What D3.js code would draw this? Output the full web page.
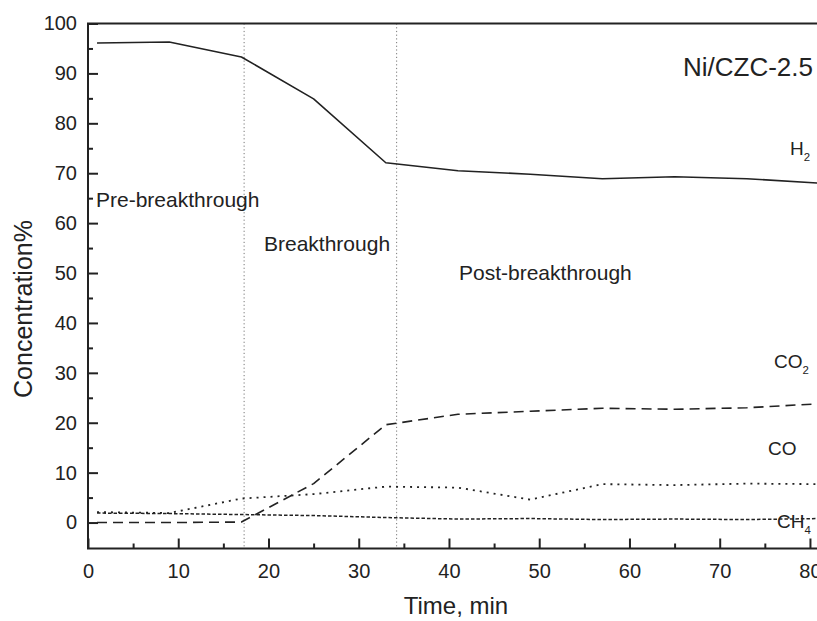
<!DOCTYPE html>
<html><head><meta charset="utf-8">
<script src="https://cdn.jsdelivr.net/npm/d3@7"></script>
<style>
body{margin:0;background:#fff;}
svg{display:block;}
text{font-family:"Liberation Sans",Arial,sans-serif;fill:#222;}
</style></head>
<body>
<svg id="c" width="817" height="621"></svg>
<script>
const times = [1, 9, 17, 25, 33, 41, 49, 57, 65, 73, 81];
const h2  = [96.1, 96.3, 93.3, 84.9, 72.1, 70.5, 69.8, 68.9, 69.3, 68.9, 68.0];
const co2 = [0.0, 0.0, 0.1, 7.8, 19.6, 21.7, 22.3, 22.9, 22.7, 23.0, 23.8];
const co  = [2.1, 1.9, 4.8, 5.7, 7.2, 7.0, 4.6, 7.7, 7.5, 7.8, 7.7];
const ch4 = [1.9, 1.8, 1.6, 1.4, 1.0, 0.7, 0.8, 0.6, 0.7, 0.6, 0.8];
const xTicks = [0, 10, 20, 30, 40, 50, 60, 70, 80];
const yTicks = [0, 10, 20, 30, 40, 50, 60, 70, 80, 90, 100];
const dividers = [17.3, 34.2];

const svg = d3.select("#c");
const L = 88, T = 23.5, R = 828, B = 548.5;
const x = d3.scaleLinear().domain([0, 82]).range([L, R]);
const y = d3.scaleLinear().domain([-5.2, 100]).range([B, T]);

svg.append("clipPath").attr("id","clip").append("rect")
  .attr("x",L).attr("y",T).attr("width",R-L).attr("height",B-T);

svg.selectAll(".div").data(dividers).enter().append("line")
  .attr("x1",d=>x(d)).attr("x2",d=>x(d)).attr("y1",T).attr("y2",B)
  .attr("stroke","#777").attr("stroke-width",1).attr("stroke-dasharray","1.2,2.5");

const series = [
  {v:h2, dash:null, w:1.6},
  {v:co2, dash:"10,6", w:1.6},
  {v:co, dash:"2,5", w:1.8},
  {v:ch4, dash:"3.5,2", w:1.5}
];
const line = d3.line().x((d,i)=>x(times[i])).y(d=>y(d));
const g = svg.append("g").attr("clip-path","url(#clip)");
series.forEach(s=>{
  g.append("path").datum(s.v).attr("d",line).attr("fill","none")
    .attr("stroke","#222").attr("stroke-width",s.w)
    .attr("stroke-dasharray",s.dash).attr("stroke-linejoin","round");
});

const xAxis = d3.axisBottom(x).tickValues(xTicks).tickSize(-10).tickFormat(d3.format("d"));
const xMinor = d3.axisBottom(x).tickValues(d3.range(5, 85, 10)).tickSize(-5).tickFormat("");
const yAxis = d3.axisLeft(y).tickValues(yTicks).tickSize(-10).tickFormat(d3.format("d"));
const yMinor = d3.axisLeft(y).tickValues(d3.range(5, 100, 10)).tickSize(-5).tickFormat("");

function style(sel){
  sel.select(".domain").remove();
  sel.selectAll(".tick line").attr("stroke","#222").attr("stroke-width",2);
  sel.selectAll(".tick text").style("font-size","20px").attr("fill","#222");
}
const gx = svg.append("g").attr("transform",`translate(0,${B})`).call(xAxis).call(style);
gx.selectAll(".tick text").attr("dy","0").attr("y",29);
svg.append("g").attr("transform",`translate(0,${B})`).call(xMinor).call(style);
const gy = svg.append("g").attr("transform",`translate(${L},0)`).call(yAxis).call(style);
gy.selectAll(".tick text").attr("x",-11);
svg.append("g").attr("transform",`translate(${L},0)`).call(yMinor).call(style);

svg.append("path").attr("d",`M${R},${T}H${L}V${B}H${R}`).attr("fill","none")
  .attr("stroke","#222").attr("stroke-width",2);

svg.append("text").attr("x",456).attr("y",614).attr("text-anchor","middle")
  .style("font-size","24px").text("Time, min");
svg.append("text").attr("transform","translate(32,309) rotate(-90)").attr("text-anchor","middle")
  .style("font-size","25px").text("Concentration%");

function ann(tx,ty,txt,size,sub){
  const t = svg.append("text").attr("x",tx).attr("y",ty).style("font-size",size+"px");
  t.append("tspan").text(txt);
  if(sub) t.append("tspan").attr("dy",6).style("font-size",(size*0.6)+"px").text(sub);
}
ann(683, 76, "Ni/CZC-2.5", 26);
ann(790, 155, "H", 19, "2");
ann(96, 207, "Pre-breakthrough", 21);
ann(264, 251, "Breakthrough", 21);
ann(459, 280, "Post-breakthrough", 21);
ann(774, 368, "CO", 19, "2");
ann(768, 455, "CO", 19);
ann(777, 528, "CH", 19, "4");
</script>
</body></html>
